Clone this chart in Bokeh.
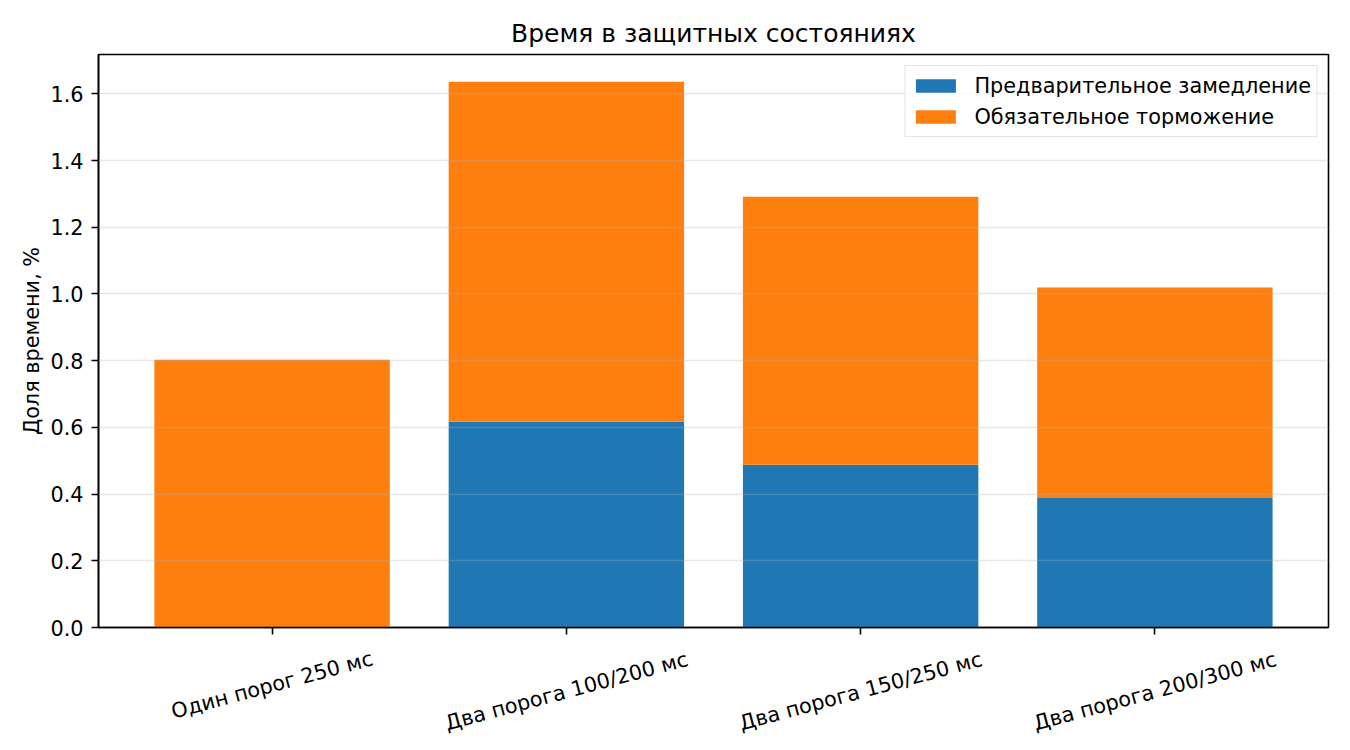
import math
from bokeh.plotting import figure
from bokeh.layouts import column
from bokeh.models import Range1d, FixedTicker, NumeralTickFormatter
from bokeh.embed import file_html
from bokeh.resources import INLINE
from bokeh.core.properties import value

# ---- data ----
categories = ["Один порог 250 мс", "Два порога 100/200 мс", "Два порога 150/250 мс", "Два порога 200/300 мс"]
pre_slowdown = [0.0, 0.617, 0.488, 0.388]
mandatory_brake = [0.803, 1.019, 0.803, 0.631]
series_names = ["Предварительное замедление", "Обязательное торможение"]
y_ticks = [0.0, 0.2, 0.4, 0.6, 0.8, 1.0, 1.2, 1.4, 1.6]
title_text = "Время в защитных состояниях"
y_label = "Доля времени, %"

# ---- styling / layout ----
FONT = "DejaVu Sans"
TICK_FS = "20.8px"
BLUE = "#1f77b4"
ORANGE = "#ff7f0e"
BAR_W = 0.8
FRAME_W, FRAME_H = 1230, 573
LEFT, RIGHT, TOP = 98, 22, 54
BOTTOM_P = 15          # border under main frame (ticks + room for "0.0")
LABEL_H = 95           # height of label strip

n = len(categories)
xs = list(range(n))
totals = [a + b for a, b in zip(pre_slowdown, mandatory_brake)]
span = (n - 1) + BAR_W
x_margin = 0.05 * span
x_lo = -BAR_W / 2 - x_margin
x_hi = (n - 1) + BAR_W / 2 + x_margin
y_hi = max(totals) * 1.05
xr = Range1d(x_lo, x_hi)

p = figure(frame_width=FRAME_W, frame_height=FRAME_H, output_backend="svg", toolbar_location=None,
           x_range=xr, y_range=Range1d(0, y_hi),
           min_border_left=LEFT, min_border_right=RIGHT, min_border_top=TOP,
           min_border_bottom=BOTTOM_P)

p.vbar(x=xs, width=BAR_W, bottom=0, top=pre_slowdown, color=BLUE, line_color=None,
       legend_label=series_names[0])
p.vbar(x=xs, width=BAR_W, bottom=pre_slowdown, top=totals, color=ORANGE, line_color=None,
       legend_label=series_names[1])

# title
p.title.text = title_text
p.title.align = "center"
p.title.text_font = FONT
p.title.text_font_size = "25px"
p.title.text_font_style = "normal"
p.title.text_color = "black"
p.title.standoff = 13

# outline
p.outline_line_color = "black"
p.outline_line_width = 1.6
p.outline_line_alpha = 1.0

# grids
p.xgrid.visible = False
p.ygrid.ticker = FixedTicker(ticks=y_ticks)
p.ygrid.grid_line_color = "#b0b0b0"
p.ygrid.grid_line_alpha = 0.3
p.ygrid.grid_line_width = 1.7
p.ygrid.level = "guide"

# y axis
ya = p.yaxis[0]
ya.ticker = FixedTicker(ticks=y_ticks)
ya.formatter = NumeralTickFormatter(format="0.0")
ya.axis_label = y_label
ya.axis_label_text_font = FONT
ya.axis_label_text_font_size = TICK_FS
ya.axis_label_text_font_style = "normal"
ya.axis_label_text_color = "black"
ya.axis_label_standoff = 3
ya.major_label_text_font = FONT
ya.major_label_text_font_size = TICK_FS
ya.major_label_text_color = "black"
ya.major_label_standoff = 8
ya.major_tick_out = 7
ya.major_tick_in = 0
ya.minor_tick_out = 0
ya.minor_tick_in = 0
ya.axis_line_color = "black"
ya.axis_line_width = 1.6
ya.major_tick_line_width = 1.6

# x axis (ticks only; labels drawn in strip below)
xa = p.xaxis[0]
xa.ticker = FixedTicker(ticks=xs)
xa.major_label_overrides = {i: "" for i in xs}
xa.major_label_text_font_size = "1px"
xa.major_label_standoff = 0
xa.major_tick_out = 7
xa.major_tick_in = 0
xa.minor_tick_out = 0
xa.minor_tick_in = 0
xa.axis_line_color = "black"
xa.axis_line_width = 1.6
xa.major_tick_line_width = 1.6

# legend
lg = p.legend[0]
lg.location = "top_right"
lg.margin = 11
lg.padding = 5
lg.spacing = 2
lg.glyph_width = 50
lg.glyph_height = 17
lg.label_height = 29
lg.label_standoff = 14
lg.label_text_font = FONT
lg.label_text_font_size = TICK_FS
lg.label_text_color = "black"
lg.border_line_color = "#cccccc"
lg.border_line_width = 1.5
lg.background_fill_alpha = 0.8

# ---- strip with rotated category labels, centred under ticks ----
q = figure(frame_width=FRAME_W, frame_height=LABEL_H, output_backend="svg", toolbar_location=None,
           x_range=xr, y_range=Range1d(-LABEL_H, 0), x_axis_type=None, y_axis_type=None,
           min_border_left=LEFT, min_border_right=RIGHT, min_border_top=0, min_border_bottom=0)
q.outline_line_color = None
q.xgrid.visible = False
q.ygrid.visible = False

ang = math.radians(15)
char_w = 12.0
line_h = 23.0
label_y = []
for lab in categories:
    w = len(lab) * char_w
    bbox_h = w * math.sin(ang) + line_h * math.cos(ang)
    off = 20 + bbox_h / 2          # distance of label centre below main frame
    label_y.append(-(off - BOTTOM_P))
q.text(x=xs, y=label_y, text=categories, angle=ang, text_align="center",
       text_baseline="middle", text_font=value(FONT), text_font_size=value(TICK_FS),
       text_color="black")

layout = column(p, q, spacing=0)
open("out.html", "w").write(file_html(layout, INLINE))
